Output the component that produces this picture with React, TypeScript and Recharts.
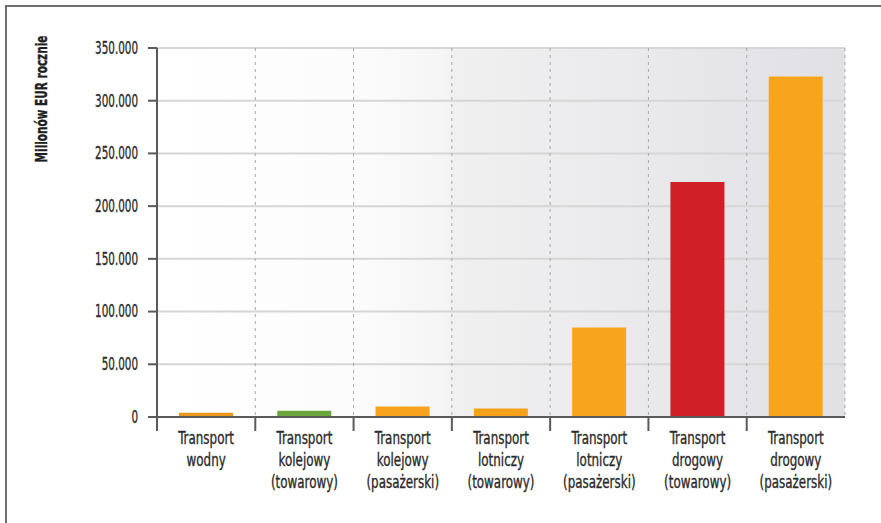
import { Bar, BarChart, CartesianGrid, Cell, XAxis, YAxis } from 'recharts';

const categories = [
  'Transport\nwodny',
  'Transport\nkolejowy\n(towarowy)',
  'Transport\nkolejowy\n(pasażerski)',
  'Transport\nlotniczy\n(towarowy)',
  'Transport\nlotniczy\n(pasażerski)',
  'Transport\ndrogowy\n(towarowy)',
  'Transport\ndrogowy\n(pasażerski)',
];
const costs = [4000, 6000, 10000, 8000, 85000, 223000, 323000];
const barColors = ['#eb971b', '#6da53f', '#f7a31d', '#f6a11c', '#f8a51d', '#d11f27', '#f8a51d'];
const yTicks = [0, 50000, 100000, 150000, 200000, 250000, 300000, 350000];
const yTitle = 'Milionów EUR rocznie';

const data = categories.map((name, i) => ({ name, value: costs[i] }));

const FONT = "'DejaVu Sans Condensed', 'DejaVu Sans', sans-serif";
const AXIS = '#5a5a5a';
const TEXT = '#2b2b2b';

const fmt = (v: number) => (v === 0 ? '0' : v.toLocaleString('de-DE'));

// the original uses a tall condensed face, so squeeze text horizontally
function CategoryTick(props: any) {
  const { x, y, payload, width, visibleTicksCount } = props;
  const band = width / visibleTicksCount;
  const lines = String(payload.value).split('\n');
  return (
    <g>
      <line x1={x - band / 2} x2={x - band / 2} y1={y} y2={y + 14} stroke={AXIS} strokeWidth={2} />
      <text
        transform={`translate(${x},${y + 27}) scale(0.78,1)`}
        textAnchor="middle"
        fill={TEXT}
        stroke={TEXT}
        strokeWidth={0.35}
        fontSize={17}
        fontFamily={FONT}
      >
        {lines.map((l, i) => (
          <tspan key={i} x={0} dy={i === 0 ? 0 : 22}>
            {l}
          </tspan>
        ))}
      </text>
    </g>
  );
}

function ValueTick(props: any) {
  const { x, y, payload } = props;
  return (
    <text
      transform={`translate(${x},${y}) scale(0.68,1)`}
      textAnchor="end"
      dominantBaseline="central"
      fill={TEXT}
      stroke={TEXT}
      strokeWidth={0.35}
      fontSize={17}
      fontFamily={FONT}
    >
      {fmt(payload.value)}
    </text>
  );
}

function YTitle(props: any) {
  const { viewBox } = props;
  const cx = 42;
  const cy = viewBox.y + 51;
  return (
    <text
      transform={`translate(${cx},${cy}) rotate(-90) scale(0.7,1)`}
      textAnchor="middle"
      dominantBaseline="central"
      fontSize={15}
      fontWeight="bold"
      fontFamily="'DejaVu Sans', sans-serif"
      fill="#1e1e1e"
      stroke="#1e1e1e"
      strokeWidth={0.4}
    >
      {yTitle}
    </text>
  );
}

export default function App() {
  return (
    <div style={{ position: 'absolute', left: 0, top: 0, width: 881, height: 523, background: '#fff' }}>
      <div
        style={{
          position: 'absolute',
          left: 5,
          top: 5,
          right: 0,
          bottom: 0,
          borderTop: '2px solid #6f6f6f',
          borderLeft: '2px solid #6f6f6f',
        }}
      />
      <div style={{ position: 'absolute', left: 0, top: 0 }}>
        <BarChart
          width={881}
          height={523}
          data={data}
          margin={{ top: 48, right: 36, bottom: 6, left: 0 }}
          barSize={54}
        >
          <defs>
            <linearGradient id="plotBg" x1="0" y1="0" x2="1" y2="0">
              <stop offset="0" stopColor="#ffffff" />
              <stop offset="0.28" stopColor="#fcfcfc" />
              <stop offset="0.42" stopColor="#f5f5f5" />
              <stop offset="0.43" stopColor="#f0f0f1" />
              <stop offset="0.7" stopColor="#eaeaec" />
              <stop offset="1" stopColor="#e0e0e5" />
            </linearGradient>
          </defs>
          <CartesianGrid
            vertical={false}
            stroke="#d6d6d6"
            strokeWidth={2}
            fill="url(#plotBg)"
            fillOpacity={1}
          />
          <CartesianGrid
            horizontal={false}
            stroke="#a9a9a9"
            strokeDasharray="3 4"
            verticalCoordinatesGenerator={({ offset }: any) =>
              categories.map((_, i) => offset.left + ((i + 1) * offset.width) / categories.length)
            }
          />
          <XAxis
            dataKey="name"
            interval={0}
            height={100}
            tickSize={0}
            tickMargin={0}
            tickLine={false}
            axisLine={{ stroke: AXIS, strokeWidth: 2 }}
            tick={<CategoryTick />}
          />
          <YAxis
            width={157}
            domain={[0, 350000]}
            ticks={yTicks}
            interval={0}
            tickSize={9}
            tickMargin={10}
            axisLine={{ stroke: AXIS, strokeWidth: 2 }}
            tickLine={{ stroke: AXIS, strokeWidth: 2 }}
            tick={<ValueTick />}
            label={<YTitle />}
          />
          <Bar dataKey="value" isAnimationActive={false}>
            {data.map((_, i) => (
              <Cell key={i} fill={barColors[i]} />
            ))}
          </Bar>
        </BarChart>
      </div>
    </div>
  );
}
